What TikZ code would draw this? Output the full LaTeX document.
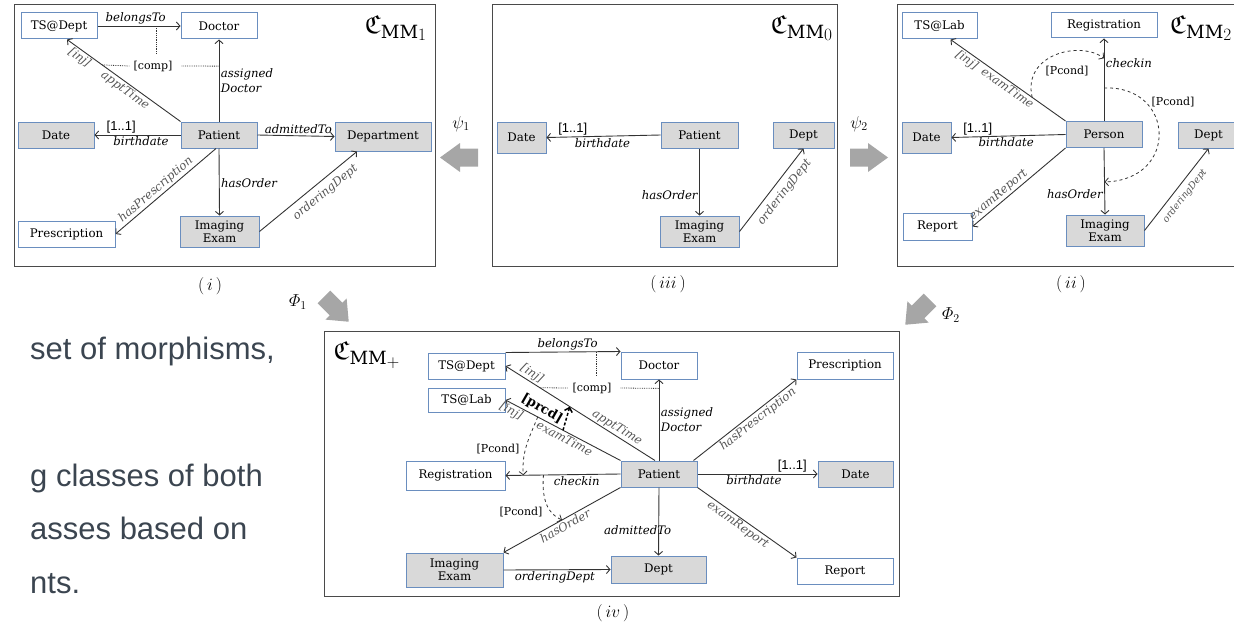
\documentclass[tikz,border=0pt]{standalone}
\usepackage{amsmath,amssymb}
\usepackage{fontspec}
\setmainfont{DejaVu Serif}
\newfontfamily\labelsans{Liberation Sans}
\usetikzlibrary{arrows.meta, calc, positioning}
\definecolor{clsline}{HTML}{6A8EBF}
\definecolor{attrfill}{HTML}{D9D9D9}
\definecolor{edgegray}{HTML}{333333}
\definecolor{labgray}{HTML}{555555}
\definecolor{panelgray}{HTML}{4A4A4A}
\definecolor{morphgray}{HTML}{A6A6A6}
\definecolor{slidetext}{HTML}{3B4550}

\begin{document}
\begin{tikzpicture}[x=1pt, y=-1pt,
  cls/.style={draw=clsline, line width=1pt, fill=white, inner sep=1pt, minimum height=26, align=center, font=\fontsize{11.8}{13}\selectfont},
  attr/.style={cls, fill=attrfill},
  rel/.style={-{Straight Barb[length=3.5pt,width=8pt]}, draw=edgegray, line width=0.9pt},
  lbl/.style={font=\fontsize{11.7}{15}\selectfont\itshape, inner sep=1.5pt},
  slbl/.style={lbl, text=labgray, sloped},
  card/.style={font=\fontsize{13}{14}\labelsans, inner sep=1pt},
  cond/.style={font=\fontsize{11}{12}\selectfont, inner sep=1pt},
  compline/.style={densely dotted, draw=edgegray, line width=0.8pt},
  pcond/.style={-{Straight Barb[length=3.5pt,width=8pt]}, dashed, draw=edgegray, line width=0.8pt},
  prcd/.style={-{Straight Barb[length=4pt,width=8pt]}, dash pattern=on 3pt off 2pt, draw=black, line width=1.5pt},
  panel/.style={draw=panelgray, line width=1pt},
  mmlab/.style={font=\fontsize{26}{28}\selectfont, inner sep=0pt},
  panelcap/.style={font=\fontsize{17}{20}\selectfont},
  morphlab/.style={font=\fontsize{18}{20}\selectfont, inner sep=0pt},
  morph/.style={fill=morphgray, draw=none},
  slide/.style={font=\fontsize{31}{36}\labelsans, text=slidetext, anchor=base west, inner sep=0pt}]
  \useasboundingbox (0,0) rectangle (1234,626);
  \clip (0,0) rectangle (1234,626);

  % left text of the slide
  \node[slide] (txt1) at (30,359) {set of morphisms,};
  \node[slide] (txt2) at (30,486) {g classes of both};
  \node[slide] (txt3) at (30,539) {asses based on};
  \node[slide] (txt4) at (30,593) {nts.};

  % (i)
  \draw[panel] (14,5) rectangle (435,266);
  \node[cls, minimum width=76] (tsdA) at (59,26) {TS@Dept};
  \node[cls, minimum width=76] (docA) at (219,26) {Doctor};
  \node[attr, minimum width=76] (dateA) at (56,135) {Date};
  \node[attr, minimum width=76] (patA) at (219,135) {Patient};
  \node[attr, minimum width=96, minimum height=29] (depA) at (383,136.5) {Department};
  \node[cls, minimum width=97] (preA) at (66.5,234) {Prescription};
  \node[attr, minimum width=79, minimum height=31] (imgA) at (219.5,231.5) {Imaging\\Exam};
  \node[mmlab] (mmA) at (396,28) {$\mathfrak{C}_{\mathrm{MM}_{\scriptstyle 1}}$};
  \node[panelcap] (capA) at (210,286) {$(\,i\,)$};
  \draw[rel] (tsdA.east) -- coordinate[pos=0.71] (bmA) node[lbl, above, pos=0.46] {belongsTo} (docA.west);
  \draw[rel] (patA.north west) -- coordinate[pos=0.69] (apA) node[slbl, below, pos=0.85] {[inj]} node[slbl, below, pos=0.45] {apptTime} ([xshift=8pt]tsdA.south);
  \draw[rel] (patA.north) -- coordinate[pos=0.675] (adA) node[lbl, right, pos=0.5, align=left] {assigned\\Doctor} (docA.south);
  \node[cond] (compA) at (153,66) {[comp]};
  \draw[compline] (bmA) -- ($(bmA |- compA.north)+(0,-6)$);
  \draw[compline] (apA) -- ([xshift=-3pt]compA.west);
  \draw[compline] ([xshift=8pt]compA.east) -- (adA);
  \draw[rel] (patA.west) -- node[card, above, pos=0.69] {[1..1]} node[lbl, below, pos=0.46] {birthdate} (dateA.east);
  \draw[rel] (patA.east) -- node[lbl, above, pos=0.53] {admittedTo} (depA.west);
  \draw[rel] ([xshift=-3pt]patA.south) -- node[slbl, above, pos=0.55] {hasPrescription} (preA.east);
  \draw[rel] (patA.south) -- node[lbl, right, pos=0.51] {hasOrder} (imgA.north);
  \draw[rel] (imgA.east) -- node[slbl, below=4pt, pos=0.6] {orderingDept} ([xshift=-26pt]depA.south);

  % (iii)
  \draw[panel] (492,5) rectangle (837,266);
  \node[attr, minimum width=49, minimum height=31] (dateO) at (521.5,137.5) {Date};
  \node[attr, minimum width=77] (patO) at (699.5,135) {Patient};
  \node[attr, minimum width=61] (deptO) at (803.5,135) {Dept};
  \node[attr, minimum width=79, minimum height=31] (imgO) at (699.5,231.5) {Imaging\\Exam};
  \node[mmlab] (mmO) at (802,28) {$\mathfrak{C}_{\mathrm{MM}_{\scriptstyle 0}}$};
  \node[panelcap] (capO) at (668,284) {$(\,iii\,)$};
  \draw[rel] (patO.west) -- node[card, above, pos=0.77] {[1..1]} node[lbl, below, pos=0.51] {birthdate} (dateO.east);
  \draw[rel] (patO.south) -- node[lbl, left, pos=0.69] {hasOrder} (imgO.north);
  \draw[rel] (imgO.east) -- node[slbl, below=4pt, pos=0.56] {orderingDept} (deptO.south);

  % (ii)
  \draw[panel] (897,5) rectangle (1245,266);
  \node[cls, minimum width=75] (tslB) at (939.5,26) {TS@Lab};
  \node[cls, minimum width=106, minimum height=25] (regB) at (1104,25.5) {Registration};
  \node[attr, minimum width=49, minimum height=31] (dateB) at (926.5,137.5) {Date};
  \node[attr, minimum width=76] (perB) at (1104,134.5) {Person};
  \node[attr, minimum width=61] (deptB) at (1208.5,135) {Dept};
  \node[cls, minimum width=69, minimum height=27] (repB) at (937.5,226.5) {Report};
  \node[attr, minimum width=78, minimum height=31] (imgB) at (1105,230.5) {Imaging\\Exam};
  \node[mmlab, anchor=west] (mmB) at (1170,28) {$\mathfrak{C}_{\mathrm{MM}_{\scriptstyle 2}}$};
  \node[panelcap] (capB) at (1071,284) {$(\,ii\,)$};
  \draw[rel] (perB.north west) -- coordinate[pos=0.29] (pcB) node[slbl, below, pos=0.82] {[inj]} node[slbl, below, pos=0.47] {examTime} ([xshift=11pt]tslB.south);
  \draw[rel] (perB.north) -- coordinate[pos=0.76] (ckB1) coordinate[pos=0.40] (ckB2) node[lbl, right, pos=0.7] {checkin} (regB.south);
  \draw[rel] (perB.west) -- node[card, above, pos=0.77] {[1..1]} node[lbl, below, pos=0.52] {birthdate} (dateB.east);
  \draw[rel] (perB.south west) -- node[slbl, above, pos=0.67] {examReport} (repB.east);
  \draw[rel] (perB.south) -- coordinate[pos=0.51] (hoB) node[lbl, left, pos=0.70] {hasOrder} (imgB.north);
  \draw[rel] (imgB.east) -- node[slbl, below=4pt, pos=0.5, font=\fontsize{9.5}{11}\selectfont\itshape] {orderingDept} (deptB.south);
  \draw[pcond] (pcB) .. controls +(-10,-43) and +(-24,-18) .. (ckB1);
  \node[cond] (pcnB1) at (1067,71) {[Pcond]};
  \draw[pcond] (ckB2) .. controls +(71,-3) and +(75,-2) .. (hoB);
  \node[cond] (pcnB2) at (1173,102) {[Pcond]};

  % morphisms
  \fill[morph, shift={(460,157.5)}, rotate=180] (20,0) -- (0,-14.5) -- (0,-9) -- (-18,-9) -- (-18,9) -- (0,9) -- (0,14.5) -- cycle;
  \fill[morph, shift={(868,157.5)}] (20,0) -- (0,-14.5) -- (0,-9) -- (-18,-9) -- (-18,9) -- (0,9) -- (0,14.5) -- cycle;
  \fill[morph, shift={(336,309)}, rotate=-45] (18,0) -- (0,-15) -- (0,-9) -- (-17,-9) -- (-17,9) -- (0,9) -- (0,15) -- cycle;
  \fill[morph, shift={(918,312)}, rotate=-135] (18,0) -- (0,-15) -- (0,-9) -- (-17,-9) -- (-17,9) -- (0,9) -- (0,15) -- cycle;
  \node[morphlab] (psiA) at (461,124) {$\psi_1$};
  \node[morphlab] (psiB) at (859,124) {$\psi_2$};
  \node[morphlab] (phiA) at (298,302) {$\varPhi_1$};
  \node[morphlab] (phiB) at (951,315) {$\varPhi_2$};

  % (iv)
  \draw[panel] (324,331) rectangle (899,596);
  \node[cls, minimum width=77] (tsdP) at (466.5,366) {TS@Dept};
  \node[cls, minimum width=77, minimum height=24] (tslP) at (466.5,400) {TS@Lab};
  \node[cls, minimum width=99, minimum height=29] (regP) at (455.5,475.5) {Registration};
  \node[attr, minimum width=97, minimum height=34] (imgP) at (454.5,570) {Imaging\\Exam};
  \node[cls, minimum width=76, minimum height=27] (docP) at (659,365.5) {Doctor};
  \node[attr, minimum width=76] (patP) at (659,474) {Patient};
  \node[attr, minimum width=95, minimum height=27] (deptP) at (658.5,569.5) {Dept};
  \node[cls, minimum width=96, minimum height=27] (preP) at (845,365.5) {Prescription};
  \node[attr, minimum width=75] (dateP) at (855.5,474) {Date};
  \node[cls, minimum width=96] (repP) at (845,571) {Report};
  \node[mmlab] (mmP) at (367,355) {$\mathfrak{C}_{\mathrm{MM}_{\scriptstyle +}}$};
  \node[panelcap] (capP) at (613,613) {$(\,iv\,)$};
  \draw[rel] (tsdP.north east) -- coordinate[pos=0.79] (bmP) node[lbl, above, pos=0.54] {belongsTo} (docP.north west);
  \draw[rel] ([xshift=-4pt]patP.north) -- coordinate[pos=0.77] (apP) coordinate[pos=0.57] (prP2) node[slbl, above, pos=0.85] {[inj]} node[slbl, above, pos=0.28] {apptTime} (tsdP.east);
  \draw[rel] (patP.north west) -- coordinate[pos=0.5] (prP1) coordinate[pos=0.72] (pcP) node[slbl, below, pos=0.92] {[inj]} node[slbl, below, pos=0.46] {examTime} (tslP.east);
  \draw[rel] (patP.north) -- coordinate[pos=0.89] (adP) node[lbl, right, pos=0.5, align=left] {assigned\\Doctor} (docP.south);
  \node[cond] (compP) at (592,388) {[comp]};
  \draw[compline] (bmP) -- ($(bmP |- compP.north)+(0,-5)$);
  \draw[compline] (apP) -- ([xshift=-3pt]compP.west);
  \draw[compline] ([xshift=8pt]compP.east) -- (adP);
  \draw[prcd] (prP1) -- (prP2);
  \node[font=\fontsize{13}{14}\selectfont\bfseries, rotate=-30, inner sep=0pt] (prcdP) at (542,409) {[prcd]};
  \draw[rel] (patP.west) -- coordinate[pos=0.845] (ckP1) coordinate[pos=0.67] (ckP2) node[lbl, below, pos=0.38] {checkin} (regP.east);
  \draw[pcond] (pcP) .. controls +(-7,18) and +(-2,-25) .. (ckP1);
  \node[cond] (pcnP1) at (498,449) {[Pcond]};
  \draw[rel] (patP.south west) -- coordinate[pos=0.5] (hoP) node[slbl, below, pos=0.5] {hasOrder} (imgP.north east);
  \draw[pcond] (ckP2) .. controls +(-2,25) and +(-14,-6) .. (hoP);
  \node[cond] (pcnP2) at (521,512) {[Pcond]};
  \draw[rel] (imgP.east) -- node[lbl, below, pos=0.48] {orderingDept} (deptP.west);
  \draw[rel] (patP.south) -- node[lbl, pos=0.62, xshift=-21pt] {admittedTo} (deptP.north);
  \draw[rel] ([xshift=-4pt]patP.north east) -- node[slbl, below, pos=0.58] {hasPrescription} (preP.south west);
  \draw[rel] (patP.east) -- node[card, above, pos=0.79] {[1..1]} node[lbl, below, pos=0.47] {birthdate} (dateP.west);
  \draw[rel] (patP.south east) -- node[slbl, below, pos=0.45] {examReport} (repP.north west);
\end{tikzpicture}
\end{document}
